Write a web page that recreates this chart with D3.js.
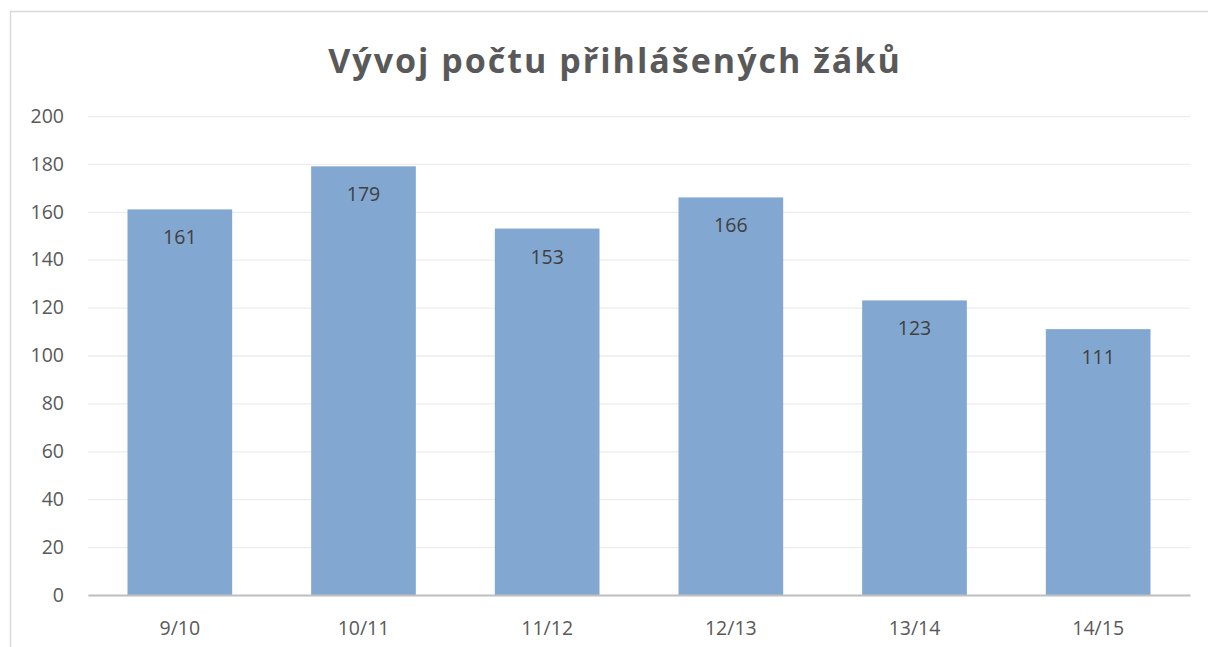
<!DOCTYPE html>
<html><head><meta charset="utf-8">
<script src="https://cdn.jsdelivr.net/npm/d3@7"></script>
<style>
html,body{margin:0;padding:0;background:#fff;}
svg{display:block;}
</style></head>
<body>
<script>
const title = "Vývoj počtu přihlášených žáků";
const categories = ["9/10","10/11","11/12","12/13","13/14","14/15"];
const values = [161,179,153,166,123,111];
const yTicks = [0,20,40,60,80,100,120,140,160,180,200];

(function(){
const W = 1208, H = 647;
const svg = d3.select("body").append("svg").attr("width", W).attr("height", H);
svg.append("rect").attr("width", W).attr("height", H).attr("fill", "#fff");
// chart frame
svg.append("path").attr("d", `M10.5,${H} V11.5 H${W}`).attr("fill","none").attr("stroke","#D9D9D9").attr("stroke-width",1.5);

const mLeft = 88, mRight = 1190, mTop = 116, mBottom = 595;
const x = d3.scaleBand().domain(categories).range([mLeft, mRight]).paddingInner(0.43).paddingOuter(0.215);
const y = d3.scaleLinear().domain([0,200]).range([mBottom, mTop]);

const font = "'Open Sans', 'Noto Sans', sans-serif";
const fs = 19.5;

// gridlines
const grid = svg.append("g").attr("transform", `translate(${mLeft},0)`)
  .call(d3.axisLeft(y).tickValues(yTicks).tickSize(-(mRight-mLeft)).tickFormat(""));
grid.select(".domain").remove();
grid.selectAll("line").attr("stroke","#EDEDED").attr("stroke-width",1.3);

// y labels
const yAxis = svg.append("g").attr("transform", `translate(${mLeft},0)`)
  .call(d3.axisLeft(y).tickValues(yTicks).tickSize(0).tickPadding(24));
yAxis.select(".domain").remove();
yAxis.selectAll("text").attr("font-family", font).attr("font-size", fs).attr("fill", "#595959");

// bars
svg.append("g").selectAll("rect").data(values).join("rect")
  .attr("x", (d,i) => x(categories[i]))
  .attr("width", x.bandwidth())
  .attr("y", d => y(d))
  .attr("height", d => y(0) - y(d))
  .attr("fill", "#82A7D0");

// value labels
svg.append("g").selectAll("text").data(values).join("text")
  .attr("x", (d,i) => x(categories[i]) + x.bandwidth()/2)
  .attr("y", d => y(d) + 35)
  .attr("text-anchor","middle")
  .attr("font-family", font).attr("font-size", fs).attr("fill", "#404040")
  .text(d => d);

// x axis
const xAxis = svg.append("g").attr("transform", `translate(0,${mBottom})`)
  .call(d3.axisBottom(x).tickSize(0).tickPadding(26));
xAxis.select(".domain").attr("stroke","#BFBFBF").attr("stroke-width",2.2);
xAxis.selectAll("text").attr("font-family", font).attr("font-size", fs).attr("fill", "#595959");

// title
svg.append("text").attr("x", 615).attr("y", 73).attr("text-anchor","middle")
  .attr("font-family", font).attr("font-weight", "bold").attr("font-size", 34)
  .attr("letter-spacing", 2).attr("fill", "#595959").text(title);
})();
</script>
</body></html>
